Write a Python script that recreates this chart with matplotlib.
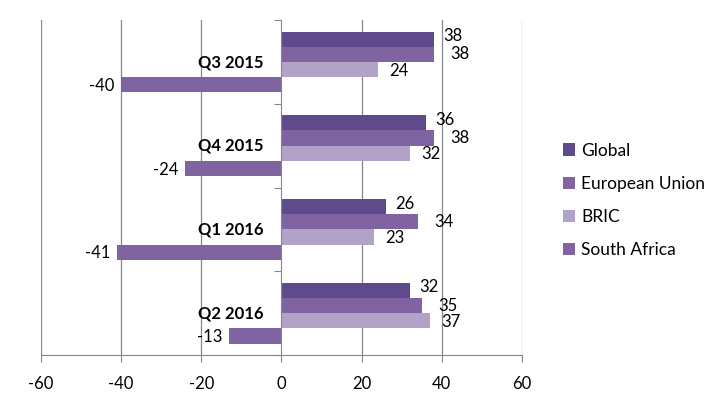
import matplotlib
matplotlib.use("Agg")
import matplotlib.pyplot as plt
import numpy as np

plt.rcParams["font.family"] = ["Lato", "DejaVu Sans"]

quarters = ["Q3 2015", "Q4 2015", "Q1 2016", "Q2 2016"]
series_names = ["Global", "European Union", "BRIC", "South Africa"]
global_vals = [38, 36, 26, 32]
eu_vals = [38, 38, 34, 35]
bric_vals = [24, 32, 23, 37]
sa_vals = [-40, -24, -41, -13]
x_ticks = [-60, -40, -20, 0, 20, 40, 60]

COLORS = ["#5F4B8B", "#8064A2", "#B3A2C7", "#8064A2"]
# label offsets in pixels, per series (Excel nudged them around)
LABEL_OFFSETS = [(10, 3), (17, 0), (12, -1), (-7, -1)]
GRID = "#868686"

fig = plt.figure(figsize=(7.15, 3.95), dpi=100)
ax = fig.add_axes([0.0573, 0.1013, 0.6727, 0.8477])

h = 0.182
pos = np.arange(len(quarters))
for j, (name, vals) in enumerate(zip(series_names, [global_vals, eu_vals, bric_vals, sa_vals])):
    y = pos + (j - 1.5) * h
    ax.barh(y, vals, height=h, color=COLORS[j], label=name, zorder=3)
    dx, dy = LABEL_OFFSETS[j]
    for v, yy in zip(vals, y):
        ax.annotate(
            f"{v}",
            xy=(v, yy),
            xytext=(dx, dy),
            textcoords="offset pixels",
            ha="left" if v >= 0 else "right",
            va="center",
            fontsize=12,
            color="black",
        )

for i, q in enumerate(quarters):
    ax.annotate(q, xy=(0, i), xytext=(-18, 0), textcoords="offset pixels",
                ha="right", va="center", fontsize=12, fontweight="bold")

ax.set_xlim(-60, 60)
ax.set_ylim(len(quarters) - 0.5, -0.5)
ax.set_xticks(x_ticks)
ax.set_xticklabels([str(t) for t in x_ticks], fontsize=12)
ax.set_yticks(np.arange(len(quarters) + 1) - 0.5)
ax.set_yticklabels([])

for t in x_ticks:
    if t != 0:
        ax.axvline(t, color=GRID, linewidth=0.9, zorder=1)

for side in ("top", "right"):
    ax.spines[side].set_visible(False)
ax.spines["left"].set_position(("data", 0))
ax.spines["left"].set_color(GRID)
ax.spines["left"].set_zorder(4)
ax.spines["bottom"].set_color(GRID)
ax.tick_params(axis="y", direction="out", length=5, color=GRID)
ax.tick_params(axis="x", direction="out", length=5, color=GRID, pad=10)

handles, labels = ax.get_legend_handles_labels()
fig.legend(
    handles, labels,
    loc="center left",
    bbox_to_anchor=(0.765, 0.493),
    frameon=False,
    fontsize=12.5,
    handlelength=0.72,
    handleheight=0.72,
    handletextpad=0.35,
    labelspacing=0.98,
)

fig.savefig("out.png", dpi=100)
